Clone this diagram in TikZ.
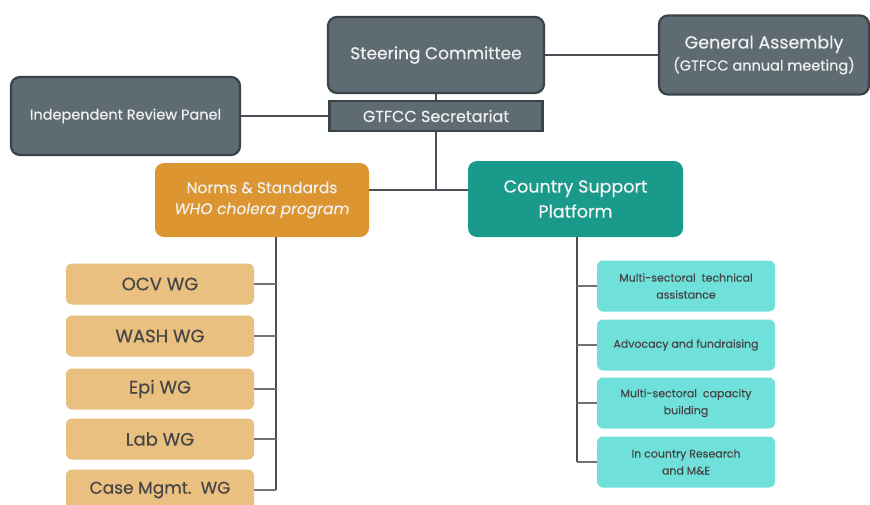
\documentclass[tikz,border=0pt]{standalone}
\usepackage{fontspec}
\setmainfont{Poppins}[FakeBold=0.3]
\definecolor{govfill}{HTML}{5F6B73}
\definecolor{govedge}{HTML}{3A4348}
\definecolor{normfill}{HTML}{DC9530}
\definecolor{wgfill}{HTML}{E9C07F}
\definecolor{cspfill}{HTML}{1A9A8A}
\definecolor{taskfill}{HTML}{6FE0DA}
\definecolor{linkgray}{HTML}{4A5055}
\definecolor{darktext}{HTML}{454545}
\begin{document}
\begin{tikzpicture}[x=1pt,y=-1pt,
  govbox/.style={draw=govedge,fill=govfill,line width=2.2pt,rounded corners=9pt,
    text=white!94!black,align=center,inner sep=0pt},
  normbox/.style={fill=normfill,rounded corners=9pt,text=white!94!black,align=center,
    inner sep=0pt,minimum width=214pt,minimum height=74pt,font=\fontsize{15.5}{21}\selectfont},
  cspbox/.style={fill=cspfill,rounded corners=9pt,text=white!96!black,align=center,
    inner sep=0pt,minimum width=215pt,minimum height=76pt,font=\fontsize{17.5}{25}\selectfont},
  wgbox/.style={fill=wgfill,rounded corners=6pt,text=darktext,inner sep=0pt,
    minimum width=188pt,minimum height=41pt,font=\fontsize{18}{20}\selectfont},
  taskbox/.style={fill=taskfill,rounded corners=6pt,text=darktext,align=center,inner sep=0pt,
    minimum width=178pt,minimum height=51pt,font=\fontsize{11}{17}\selectfont},
  link/.style={draw=linkgray,line width=1.8pt},
  tick/.style={draw=linkgray!80,line width=1.5pt}]
\clip (0,0) rectangle (870,504);
\fill[white] (0,0) rectangle (870,504);
% governance
\node[govbox,minimum width=216pt,minimum height=76pt,font=\fontsize{17}{20}\selectfont]
  (steer) at (436,55) {Steering Committee};
\node[govbox,minimum width=210pt,minimum height=79pt]
  (assembly) at (764,55) {{\fontsize{17.5}{20}\selectfont General Assembly}\\[3pt]
  {\fontsize{14.5}{16}\selectfont (GTFCC annual meeting)}};
\node[govbox,rounded corners=0pt,minimum width=213pt,minimum height=30pt,font=\fontsize{16}{18}\selectfont]
  (secr) at (436,116) {GTFCC Secretariat};
\node[govbox,minimum width=229pt,minimum height=78pt,font=\fontsize{14.5}{18}\selectfont]
  (review) at (125.5,116) {Independent Review Panel};
% platforms
\node[normbox] (norms) at (262,200) {Norms \& Standards\\\textit{WHO cholera program}};
\node[cspbox] (csp) at (575.5,199) {Country Support\\Platform};
% working groups
\node[wgbox] (ocv) at (160,284) {OCV WG};
\node[wgbox] (wash) at (160,336) {WASH WG};
\node[wgbox] (epi) at (160,389) {Epi WG};
\node[wgbox] (lab) at (160,439) {Lab WG};
\node[wgbox,font=\fontsize{17}{20}\selectfont] (case) at (160,490) {Case Mgmt.\ \ WG};
% country support tasks
\node[taskbox] (tech) at (686,286) {Multi-sectoral\ \ technical\\assistance};
\node[taskbox] (advo) at (686,345) {Advocacy and fundraising};
\node[taskbox] (capa) at (686,403) {Multi-sectoral\ \ capacity\\building};
\node[taskbox] (resm) at (686,462) {In country Research\\and M\&E};
% links
\coordinate (joint) at (436,190);
\coordinate (lspine) at (276,0);
\coordinate (rspine) at (577,0);
\draw[link] (steer.east) -- (assembly.west);
\draw[link] (review.east) -- (secr.west);
\draw[link] (steer.south) -- (secr.north);
\draw[link] (secr.south) -- (joint);
\draw[link] (norms.east |- joint) -- (csp.west |- joint);
\draw[link] (lspine |- norms.south) -- (lspine |- case.east);
\draw[link] (rspine |- csp.south) -- (rspine |- resm.west);
\foreach \wg in {ocv,wash,epi,lab,case}
  \draw[tick] (\wg.east) -- (lspine |- \wg.east);
\foreach \task in {tech,advo,capa,resm}
  \draw[tick] (\task.west) -- (rspine |- \task.west);
\end{tikzpicture}
\end{document}
